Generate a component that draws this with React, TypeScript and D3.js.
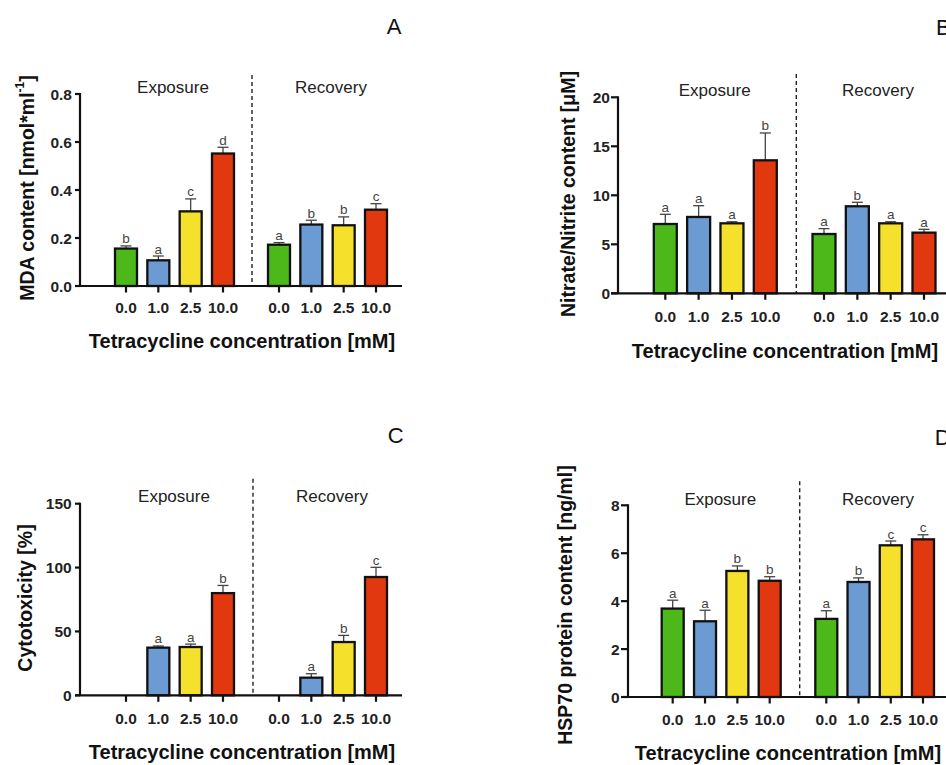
import React from "react";
import * as d3 from "d3";

// ---------- data ----------
const concentrations = ["0.0", "1.0", "2.5", "10.0"];
const phases = ["Exposure", "Recovery"];
const xTitle = "Tetracycline concentration [mM]";

// Panel A – MDA content
const mdaExposure = [0.156, 0.107, 0.311, 0.552];
const mdaExposureSD = [0.011, 0.018, 0.052, 0.026];
const mdaExposureLetters = ["b", "a", "c", "d"];
const mdaRecovery = [0.172, 0.256, 0.253, 0.318];
const mdaRecoverySD = [0.009, 0.018, 0.035, 0.025];
const mdaRecoveryLetters = ["a", "b", "b", "c"];
const mdaTicks = [0, 0.2, 0.4, 0.6, 0.8];

// Panel B – Nitrate/Nitrite
const noExposure = [7.07, 7.79, 7.14, 13.57];
const noExposureSD = [0.99, 1.15, 0.16, 2.79];
const noExposureLetters = ["a", "a", "a", "b"];
const noRecovery = [6.05, 8.88, 7.14, 6.19];
const noRecoverySD = [0.55, 0.41, 0.16, 0.34];
const noRecoveryLetters = ["a", "b", "a", "a"];
const noTicks = [0, 5, 10, 15, 20];

// Panel C – Cytotoxicity
const cytoExposure = [0, 37.3, 37.8, 80.0];
const cytoExposureSD = [0, 1.3, 2.3, 6.0];
const cytoExposureLetters = ["", "a", "a", "b"];
const cytoRecovery = [0, 13.8, 41.7, 92.6];
const cytoRecoverySD = [0, 3.1, 5.2, 7.6];
const cytoRecoveryLetters = ["", "a", "b", "c"];
const cytoTicks = [0, 50, 100, 150];

// Panel D – HSP70
const hspExposure = [3.69, 3.16, 5.26, 4.85];
const hspExposureSD = [0.35, 0.46, 0.21, 0.17];
const hspExposureLetters = ["a", "a", "b", "b"];
const hspRecovery = [3.26, 4.8, 6.33, 6.58];
const hspRecoverySD = [0.34, 0.17, 0.18, 0.19];
const hspRecoveryLetters = ["a", "b", "c", "c"];
const hspTicks = [0, 2, 4, 6, 8];

const barColors = ["#4cb819", "#6b9bd2", "#f5e12c", "#e2380f"];

const FONT = "'Liberation Sans', Arial, Helvetica, sans-serif";

type Group = { values: number[]; sd: number[]; letters: string[] };

type PanelProps = {
  label: string;
  labelX: number;
  labelY: number;
  labelAnchor: string;
  yTitle: React.ReactNode;
  yTitleX: number;
  yTitleY: number;
  ticks: number[];
  fmt: (v: number) => string;
  axisX: number;
  axisLeft: number;
  axisRight: number;
  y0: number;
  yTop: number;
  exp: [number, number];
  rec: [number, number];
  barW: number;
  dashX: number;
  dashTop: number;
  phaseY: number;
  phaseX: [number, number];
  tickLabelY: number;
  tickLabelRight: number;
  xTitleX: number;
  xTitleY: number;
  groups: [Group, Group];
};

function Panel(p: PanelProps) {
  const y = d3
    .scaleLinear()
    .domain([p.ticks[0], p.ticks[p.ticks.length - 1]])
    .range([p.y0, p.yTop]);
  const xs = [
    d3.scalePoint<string>().domain(concentrations).range(p.exp),
    d3.scalePoint<string>().domain(concentrations).range(p.rec),
  ];
  return (
    <g>
      {/* panel letter */}
      <text x={p.labelX} y={p.labelY} fontSize={22} textAnchor={p.labelAnchor} fontFamily={FONT} fill="#111">
        {p.label}
      </text>
      {/* phase labels */}
      {phases.map((ph, i) => (
        <text key={ph} x={p.phaseX[i]} y={p.phaseY} fontSize={17} textAnchor="middle" fontFamily={FONT} fill="#222">
          {ph}
        </text>
      ))}
      {/* dashed separator */}
      <line x1={p.dashX} x2={p.dashX} y1={p.dashTop} y2={p.y0} stroke="#222" strokeWidth={1.4} strokeDasharray="4,3" />
      {/* bars */}
      {p.groups.map((g, gi) =>
        concentrations.map((c, i) => {
          const cx = xs[gi](c) as number;
          const v = g.values[i];
          const top = y(v);
          const errTop = y(v + g.sd[i]);
          if (v <= 0) return null;
          return (
            <g key={`${gi}-${c}`}>
              <line x1={cx} x2={cx} y1={top} y2={errTop} stroke="#444" strokeWidth={1.3} />
              <line x1={cx - 5.5} x2={cx + 5.5} y1={errTop} y2={errTop} stroke="#444" strokeWidth={1.3} />
              <rect
                x={cx - p.barW / 2}
                y={top}
                width={p.barW}
                height={p.y0 - top}
                fill={barColors[i]}
                stroke="#111"
                strokeWidth={2.3}
              />
              {g.letters[i] && (
                <text x={cx} y={errTop - 2.5} fontSize={13.5} textAnchor="middle" fontFamily={FONT} fill="#444">
                  {g.letters[i]}
                </text>
              )}
            </g>
          );
        })
      )}
      {/* y axis */}
      <line x1={p.axisX} x2={p.axisX} y1={p.yTop - 1} y2={p.y0} stroke="#111" strokeWidth={2.2} />
      {p.ticks.map((t) => (
        <g key={t}>
          <line x1={p.axisLeft} x2={p.axisX} y1={y(t)} y2={y(t)} stroke="#111" strokeWidth={2.2} />
          <text
            x={p.tickLabelRight}
            y={y(t) + 5.5}
            fontSize={15.5}
            fontWeight="bold"
            textAnchor="end"
            fontFamily={FONT}
            fill="#222"
          >
            {p.fmt(t)}
          </text>
        </g>
      ))}
      {/* x axis */}
      <line x1={p.axisLeft} x2={p.axisRight} y1={p.y0} y2={p.y0} stroke="#111" strokeWidth={2.2} />
      {xs.map((sc, gi) =>
        concentrations.map((c) => (
          <g key={`t${gi}${c}`}>
            <line x1={sc(c)} x2={sc(c)} y1={p.y0} y2={p.y0 + 6.5} stroke="#111" strokeWidth={2.2} />
            <text
              x={sc(c)}
              y={p.tickLabelY}
              fontSize={15.5}
              fontWeight="bold"
              textAnchor="middle"
              fontFamily={FONT}
              fill="#222"
            >
              {c}
            </text>
          </g>
        ))
      )}
      {/* x title */}
      <text x={p.xTitleX} y={p.xTitleY} fontSize={20} fontWeight="bold" textAnchor="middle" fontFamily={FONT} fill="#111">
        {xTitle}
      </text>
      {/* y title */}
      <text
        transform={`translate(${p.yTitleX},${p.yTitleY}) rotate(-90)`}
        fontSize={19.5}
        fontWeight="bold"
        textAnchor="middle"
        dominantBaseline="central"
        fontFamily={FONT}
        fill="#111"
      >
        {p.yTitle}
      </text>
    </g>
  );
}

export default function App() {
  const f1 = d3.format(".1f");
  const f0 = d3.format("d");
  return (
    <div style={{ position: "absolute", left: 0, top: 0 }}>
      <svg width={946} height={765} style={{ display: "block", background: "#fff" }}>
        <Panel
          label="A"
          labelX={394}
          labelY={34}
          labelAnchor="middle"
          yTitle={
            <>
              MDA content [nmol*ml
              <tspan fontSize={12} dy={-7}>-1</tspan>
              <tspan dy={7}>]</tspan>
            </>
          }
          yTitleX={27}
          yTitleY={188}
          ticks={mdaTicks}
          fmt={f1}
          axisX={80}
          axisLeft={75}
          axisRight={402}
          y0={286}
          yTop={94}
          exp={[126, 223]}
          rec={[279, 376]}
          barW={22}
          dashX={252}
          dashTop={75}
          phaseY={92.5}
          phaseX={[173, 331]}
          tickLabelY={313}
          tickLabelRight={72}
          xTitleX={242}
          xTitleY={348}
          groups={[
            { values: mdaExposure, sd: mdaExposureSD, letters: mdaExposureLetters },
            { values: mdaRecovery, sd: mdaRecoverySD, letters: mdaRecoveryLetters },
          ]}
        />
        <Panel
          label="B"
          labelX={936}
          labelY={35}
          labelAnchor="start"
          yTitle="Nitrate/Nitrite content [μM]"
          yTitleX={568}
          yTitleY={194}
          ticks={noTicks}
          fmt={f0}
          axisX={618}
          axisLeft={611}
          axisRight={950}
          y0={293.3}
          yTop={97.3}
          exp={[665.3, 765.3]}
          rec={[824, 924]}
          barW={23}
          dashX={796.3}
          dashTop={74}
          phaseY={96}
          phaseX={[714.7, 878]}
          tickLabelY={321.5}
          tickLabelRight={610}
          xTitleX={785}
          xTitleY={358}
          groups={[
            { values: noExposure, sd: noExposureSD, letters: noExposureLetters },
            { values: noRecovery, sd: noRecoverySD, letters: noRecoveryLetters },
          ]}
        />
        <Panel
          label="C"
          labelX={395.7}
          labelY={443}
          labelAnchor="middle"
          yTitle="Cytotoxicity [%]"
          yTitleX={25}
          yTitleY={598}
          ticks={cytoTicks}
          fmt={f0}
          axisX={80}
          axisLeft={75}
          axisRight={402}
          y0={695.3}
          yTop={503.7}
          exp={[126, 223]}
          rec={[279, 376]}
          barW={22}
          dashX={253}
          dashTop={478.7}
          phaseY={502}
          phaseX={[174, 332]}
          tickLabelY={723.5}
          tickLabelRight={71.7}
          xTitleX={242}
          xTitleY={758.5}
          groups={[
            { values: cytoExposure, sd: cytoExposureSD, letters: cytoExposureLetters },
            { values: cytoRecovery, sd: cytoRecoverySD, letters: cytoRecoveryLetters },
          ]}
        />
        <Panel
          label="D"
          labelX={934.7}
          labelY={445}
          labelAnchor="start"
          yTitle="HSP70 protein content [ng/ml]"
          yTitleX={565}
          yTitleY={605}
          ticks={hspTicks}
          fmt={f0}
          axisX={628}
          axisLeft={621}
          axisRight={950}
          y0={697}
          yTop={505.3}
          exp={[672.7, 769.7]}
          rec={[826.3, 923]}
          barW={22}
          dashX={799.7}
          dashTop={481.3}
          phaseY={504.5}
          phaseX={[720.3, 878]}
          tickLabelY={725}
          tickLabelRight={619.7}
          xTitleX={788}
          xTitleY={760}
          groups={[
            { values: hspExposure, sd: hspExposureSD, letters: hspExposureLetters },
            { values: hspRecovery, sd: hspRecoverySD, letters: hspRecoveryLetters },
          ]}
        />
      </svg>
    </div>
  );
}
